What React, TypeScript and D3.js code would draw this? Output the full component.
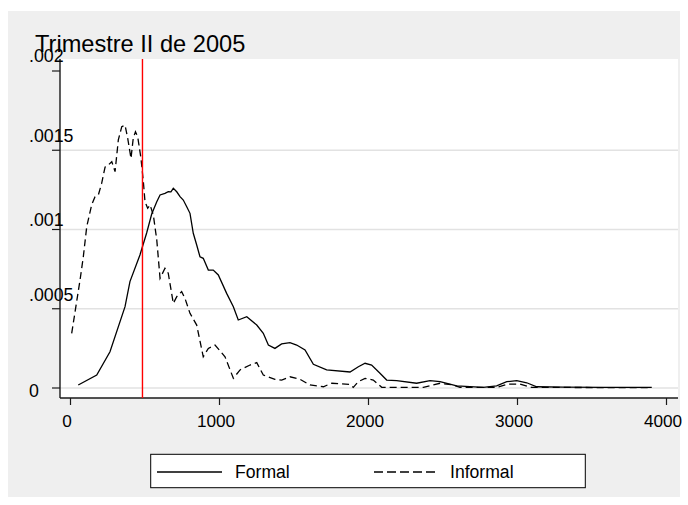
import React from "react";
import * as d3 from "d3";

const title = "Trimestre II de 2005";
const xTicks = [0, 1000, 2000, 3000, 4000];
const xTickLabels = ["0", "1000", "2000", "3000", "4000"];
const yTicks = [0, 0.0005, 0.001, 0.0015, 0.002];
const yTickLabels = ["0", ".0005", ".001", ".0015", ".002"];
const gridTicks = [0, 0.0005, 0.001, 0.0015];
const refLine = 483;
const seriesNames = ["Formal", "Informal"];

const formalX = [52, 176, 265, 366, 399, 466, 511, 545, 579, 601, 634, 656, 674, 690, 713, 735, 757, 780, 802, 824, 847, 869, 891, 925, 958, 992, 1048, 1093, 1126, 1183, 1250, 1294, 1328, 1372, 1417, 1473, 1518, 1574, 1630, 1719, 1876, 1932, 1977, 2021, 2077, 2122, 2189, 2323, 2413, 2480, 2592, 2770, 2860, 2928, 2995, 3062, 3129, 3307, 3576, 3901];
const formalY = [0.000019, 0.000082, 0.000229, 0.000513, 0.000671, 0.000839, 0.000978, 0.001098, 0.001175, 0.001218, 0.001228, 0.001238, 0.001237, 0.00126, 0.001238, 0.001207, 0.001186, 0.001144, 0.001102, 0.000976, 0.000902, 0.000828, 0.000818, 0.000744, 0.000744, 0.000713, 0.000597, 0.000513, 0.000429, 0.00045, 0.000397, 0.000345, 0.000271, 0.00025, 0.000278, 0.000286, 0.000271, 0.00024, 0.00015, 0.000114, 0.000101, 0.000134, 0.000156, 0.000145, 0.000093, 0.00005, 0.000046, 0.00003, 0.000046, 0.00004, 0.000013, 0.000004, 0.000013, 0.00004, 0.000046, 0.000033, 0.000008, 0.000006, 0.000004, 0.000004];

const informalX = [8, 64, 86, 109, 142, 164, 187, 209, 232, 254, 277, 299, 321, 344, 366, 384, 406, 421, 436, 451, 473, 489, 500, 518, 534, 556, 579, 601, 634, 656, 690, 713, 746, 768, 802, 847, 891, 925, 970, 1037, 1093, 1138, 1205, 1250, 1294, 1372, 1417, 1473, 1540, 1607, 1697, 1753, 1876, 1898, 1932, 1977, 2032, 2089, 2368, 2480, 2569, 2614, 2860, 2938, 3017, 3095, 3901];
const informalY = [0.000345, 0.000681, 0.000828, 0.001018, 0.001155, 0.001205, 0.001218, 0.001291, 0.001394, 0.001407, 0.001428, 0.001365, 0.001565, 0.001649, 0.001659, 0.001575, 0.001449, 0.001575, 0.001617, 0.001585, 0.001449, 0.001302, 0.001175, 0.001134, 0.001155, 0.001091, 0.000934, 0.000692, 0.000755, 0.000724, 0.000534, 0.000576, 0.000608, 0.000566, 0.000471, 0.000397, 0.000197, 0.00025, 0.000271, 0.000197, 0.000061, 0.000114, 0.000145, 0.00016, 0.000082, 0.000055, 0.00005, 0.000071, 0.000055, 0.000019, 0.000008, 0.00003, 0.000023, 0.000004, 0.00004, 0.000061, 0.00005, 0.000004, 0.000004, 0.00003, 0.000019, 0.000004, 0.000004, 0.000025, 0.000025, 0.000004, 0.000002];

// layout (pixel offsets of y labels relative to their ticks, as in the reference)
const yLabelDy = [9, -8, -4, -8, -9];

const FONT = "'Liberation Sans', Arial, sans-serif";

export default function App() {
  const W = 688, H = 505;
  const plot = { left: 60, right: 678, top: 59, bottom: 398 };
  const x = d3.scaleLinear().domain([0, 4000]).range([70.5, 666.5]);
  const y = d3.scaleLinear().domain([0, 0.002]).range([388, 71]);

  const line = d3
    .line<[number, number]>()
    .x((d) => x(d[0]))
    .y((d) => y(d[1]));

  const formal = formalX.map((v, i) => [v, formalY[i]] as [number, number]);
  const informal = informalX.map((v, i) => [v, informalY[i]] as [number, number]);

  return (
    <svg
      width={W}
      height={H}
      style={{ position: "absolute", left: 0, top: 0 }}
      fontFamily={FONT}
    >
      <rect x={0} y={0} width={W} height={H} fill="#ffffff" />
      <rect x={8} y={11} width={672} height={486} fill="#efefef" />
      <rect
        x={plot.left}
        y={plot.top}
        width={plot.right - plot.left}
        height={plot.bottom - plot.top}
        fill="#ffffff"
      />
      {gridTicks.map((t) => (
        <line
          key={"g" + t}
          x1={plot.left}
          x2={plot.right}
          y1={y(t)}
          y2={y(t)}
          stroke="#e2e2e2"
          strokeWidth={1.5}
        />
      ))}
      <text x={35} y={51.7} fontSize={23.6} fill="#000">
        {title}
      </text>
      {/* y axis */}
      <line x1={plot.left} x2={plot.left} y1={plot.top} y2={plot.bottom} stroke="#1a1a1a" strokeWidth={1.4} />
      {yTicks.map((t, i) => (
        <g key={"yt" + t}>
          <line x1={52} x2={plot.left} y1={y(t)} y2={y(t)} stroke="#1a1a1a" strokeWidth={1.2} />
          <text x={29} y={y(t) + yLabelDy[i]} fontSize={17.8} fill="#000">
            {yTickLabels[i]}
          </text>
        </g>
      ))}
      {/* x axis */}
      <line x1={plot.left} x2={plot.right} y1={plot.bottom} y2={plot.bottom} stroke="#1a1a1a" strokeWidth={1.4} />
      {xTicks.map((t, i) => (
        <g key={"xt" + t}>
          <line x1={x(t)} x2={x(t)} y1={plot.bottom} y2={plot.bottom + 7} stroke="#1a1a1a" strokeWidth={1.2} />
          <text x={x(t) - 3.5} y={427} fontSize={17.2} textAnchor="middle" fill="#000">
            {xTickLabels[i]}
          </text>
        </g>
      ))}
      {/* curves */}
      <path d={line(informal) || ""} fill="none" stroke="#000" strokeWidth={1.3} strokeDasharray="7,4" />
      <path d={line(formal) || ""} fill="none" stroke="#000" strokeWidth={1.3} />
      {/* reference line */}
      <line x1={x(refLine)} x2={x(refLine)} y1={plot.top} y2={plot.bottom} stroke="#ff0000" strokeWidth={1.4} />
      {/* legend */}
      <rect x={150.7} y={454.3} width={434.6} height={33.4} fill="#ffffff" stroke="#000" strokeWidth={1} />
      <line x1={157} x2={222} y1={472} y2={472} stroke="#000" strokeWidth={1.3} />
      <text x={235} y={478} fontSize={17.6} fill="#000">
        {seriesNames[0]}
      </text>
      <line x1={374} x2={438} y1={472} y2={472} stroke="#000" strokeWidth={1.3} strokeDasharray="9,4" />
      <text x={450} y={478} fontSize={17.6} fill="#000">
        {seriesNames[1]}
      </text>
    </svg>
  );
}
